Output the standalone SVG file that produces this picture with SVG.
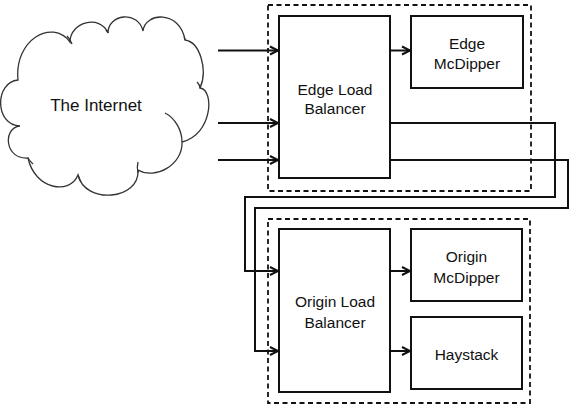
<svg xmlns="http://www.w3.org/2000/svg" width="573" height="412" viewBox="0 0 573 412">
<defs>
<style>
.box{fill:#fff;stroke:#111;stroke-width:2}
.dash{fill:none;stroke:#111;stroke-width:1.8;stroke-dasharray:5,3.5}
.conn{fill:none;stroke:#111;stroke-width:2}
.cloud{fill:#fff;stroke:#333;stroke-width:1.3}
.curl{fill:none;stroke:#333;stroke-width:1.3}
text{font-family:"Liberation Sans",Arial,sans-serif;font-size:15.5px;fill:#111;text-anchor:middle}
</style>
<marker id="arr" markerUnits="userSpaceOnUse" markerWidth="12" markerHeight="12" refX="9" refY="5" orient="auto" viewBox="0 0 12 10">
<path d="M1,1 L9,5 L1,9" fill="none" stroke="#111" stroke-width="2"/>
</marker>
</defs>
<rect width="573" height="412" fill="#fff"/>

<g id="internet">
<path class="cloud" d="M18,80 C14,40 52,18 70,42 C70,22 100,14 108,33 C108,14 138,10 143,31 C145,12 180,10 185,40 C200,42 208,70 200,88 C215,90 212,135 182,142 C183,165 155,180 138,170 C140,200 85,205 78,175 C70,195 35,190 28,158 C5,160 2,128 20,126 C-6,125 -5,82 18,80 Z"/>
<path class="curl" d="M165,113 C175,118 182,130 182,142"/>
<path class="curl" d="M138,173 C137,169 137,166 138,162"/>
<path class="curl" d="M72,44 C71,41 69,38 67,36"/>
<path class="curl" d="M28,158 C29,160 31,162 33,164"/>
<path class="curl" d="M200,88 C200,86 199,84 197,82"/>
<path class="curl" d="M78,175 C79,178 80,180 81,182"/>
<path class="curl" d="M108,33 C108,32 107,31 106,30"/>
<path class="curl" d="M185,40 C185,39 185,38 184,37"/>
<text x="96" y="111" style="font-size:17px">The Internet</text>
</g>

<g id="edge-group">
<rect class="dash" x="268" y="5" width="263" height="186"/>
</g>

<g id="edge-lb">
<rect class="box" x="279" y="16" width="111" height="162"/>
<text x="335" y="95">Edge Load</text>
<text x="335" y="114">Balancer</text>
</g>

<g id="edge-mcdipper">
<rect class="box" x="411" y="16" width="112" height="72"/>
<text x="467" y="49">Edge</text>
<text x="467" y="69">McDipper</text>
</g>

<g id="origin-group">
<rect class="dash" x="268" y="219" width="262" height="184"/>
</g>

<g id="origin-lb">
<rect class="box" x="279" y="229" width="111" height="163"/>
<text x="335" y="307">Origin Load</text>
<text x="335" y="328">Balancer</text>
</g>

<g id="origin-mcdipper">
<rect class="box" x="411" y="229" width="111" height="72"/>
<text x="466.5" y="262">Origin</text>
<text x="466.5" y="283">McDipper</text>
</g>

<g id="haystack">
<rect class="box" x="411" y="317" width="111" height="72"/>
<text x="466.5" y="360">Haystack</text>
</g>

<g id="connectors">
<path class="conn" d="M218,50.5 H278" marker-end="url(#arr)"/>
<path class="conn" d="M218,123 H278" marker-end="url(#arr)"/>
<path class="conn" d="M218,160 H278" marker-end="url(#arr)"/>
<path class="conn" d="M390,50.5 H410" marker-end="url(#arr)"/>
<path class="conn" d="M390,123 H555 V197 H245 V271 H278" marker-end="url(#arr)"/>
<path class="conn" d="M390,160 H568 V208 H255 V351 H278" marker-end="url(#arr)"/>
<path class="conn" d="M390,271 H410" marker-end="url(#arr)"/>
<path class="conn" d="M390,351 H410" marker-end="url(#arr)"/>
</g>
</svg>
